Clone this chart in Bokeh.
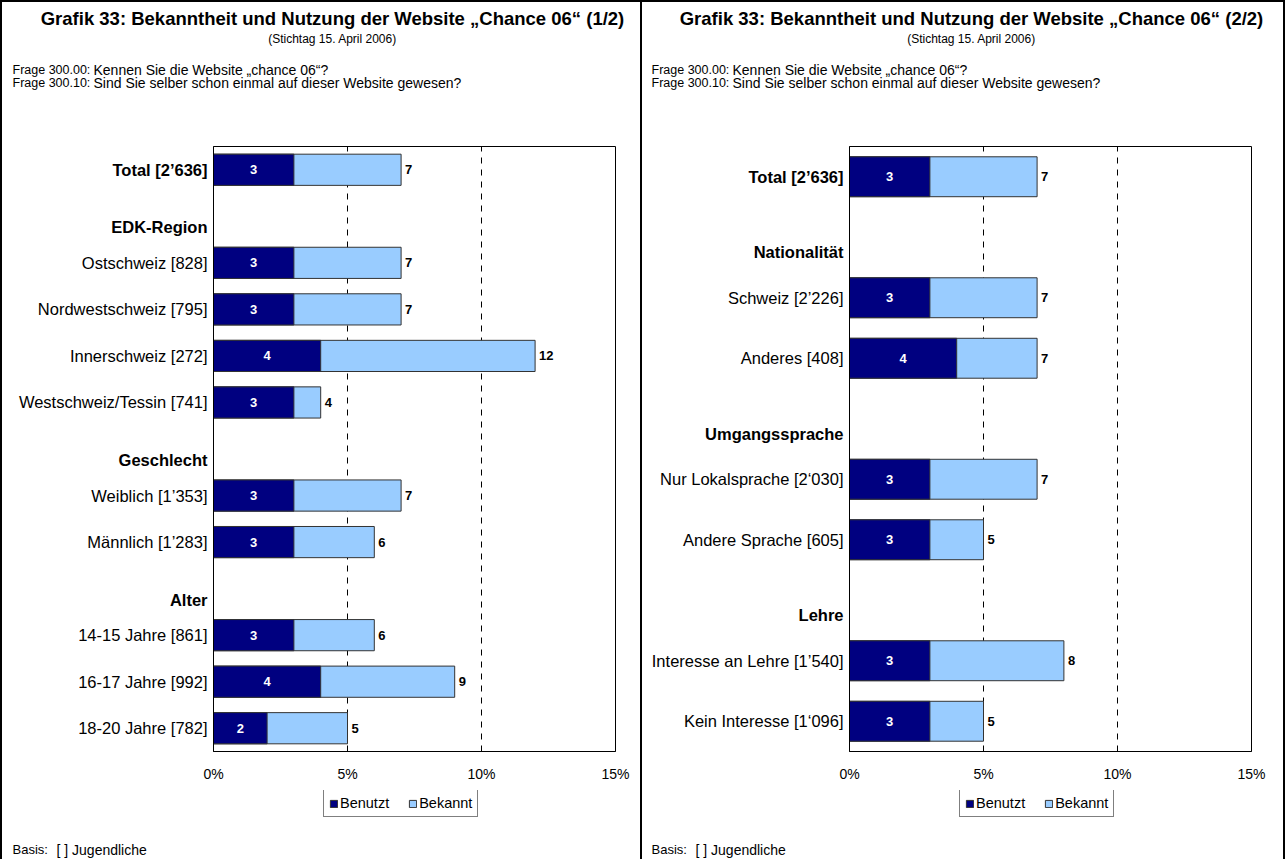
from bokeh.plotting import figure
from bokeh.models import Range1d, Legend, LegendItem, FixedTicker, ColumnDataSource
from bokeh.core.properties import value
from bokeh.layouts import row, column
from bokeh.embed import file_html
from bokeh.resources import INLINE

FONT = "Liberation Sans"

# ---------------- data ----------------
titles = ["Grafik 33: Bekanntheit und Nutzung der Website „Chance 06“ (1/2)",
          "Grafik 33: Bekanntheit und Nutzung der Website „Chance 06“ (2/2)"]
subtitle = "(Stichtag 15. April 2006)"
frage_ids = ["Frage 300.00:", "Frage 300.10:"]
frage_texts = ["Kennen Sie die Website „chance 06“?",
               "Sind Sie selber schon einmal auf dieser Website gewesen?"]
basis = ["Basis:", "[ ] Jugendliche"]
series_names = ["Benutzt", "Bekannt"]
x_ticks = [0, 5, 10, 15]
tick_labels = ["0%", "5%", "10%", "15%"]

# panel 1
rows_1 = ["Total [2’636]", "EDK-Region", "Ostschweiz [828]", "Nordwestschweiz [795]",
          "Innerschweiz [272]", "Westschweiz/Tessin [741]", "Geschlecht",
          "Weiblich [1’353]", "Männlich [1’283]", "Alter",
          "14-15 Jahre [861]", "16-17 Jahre [992]", "18-20 Jahre [782]"]
headers_1 = ["EDK-Region", "Geschlecht", "Alter"]
categories_1 = ["Total [2’636]", "Ostschweiz [828]", "Nordwestschweiz [795]",
                "Innerschweiz [272]", "Westschweiz/Tessin [741]",
                "Weiblich [1’353]", "Männlich [1’283]",
                "14-15 Jahre [861]", "16-17 Jahre [992]", "18-20 Jahre [782]"]
benutzt_1 = [3, 3, 3, 4, 3, 3, 3, 3, 4, 2]
bekannt_1 = [7, 7, 7, 12, 4, 7, 6, 6, 9, 5]

# panel 2
rows_2 = ["Total [2’636]", "Nationalität", "Schweiz [2’226]", "Anderes [408]",
          "Umgangssprache", "Nur Lokalsprache [2‘030]", "Andere Sprache [605]",
          "Lehre", "Interesse an Lehre [1’540]", "Kein Interesse [1‘096]"]
headers_2 = ["Nationalität", "Umgangssprache", "Lehre"]
categories_2 = ["Total [2’636]", "Schweiz [2’226]", "Anderes [408]",
                "Nur Lokalsprache [2‘030]", "Andere Sprache [605]",
                "Interesse an Lehre [1’540]", "Kein Interesse [1‘096]"]
benutzt_2 = [3, 3, 4, 3, 3, 3, 3]
bekannt_2 = [7, 7, 7, 7, 5, 8, 5]

DARK = "#000080"
LIGHT = "#99CCFF"
EDGE = "#333333"

PAD = 2                 # black border width (row padding / spacing)
CHART_H = 788
LEG_H = 69
FRAME_TOP = 146         # page px
FRAME_BOTTOM = 751      # page px
FRAME_W = 402


def make_panel(title, rows, headers, cats, ben, bek, width, page_x0, panel_edge,
               left_b, header_offset, bar_h, legend_left):
    n = len(rows)
    frame_left = page_x0 + left_b
    right_b = width - left_b - FRAME_W

    def X(px):  # page pixel -> data x (free-standing texts)
        return (px - frame_left) * 15.0 / FRAME_W

    def Y(py):  # page pixel -> data y in chart figure
        return (FRAME_BOTTOM - py) * n / float(FRAME_BOTTOM - FRAME_TOP)

    p = figure(width=width, height=CHART_H,
               x_range=Range1d(0, 15), y_range=Range1d(0, n),
               min_border_left=left_b, min_border_right=right_b,
               min_border_top=FRAME_TOP - PAD,
               min_border_bottom=CHART_H - (FRAME_BOTTOM - PAD),
               output_backend="svg", toolbar_location=None, title=None)
    p.border_fill_color = "white"
    p.background_fill_color = "white"
    p.outline_line_color = "black"
    p.outline_line_width = 1

    pos = {r: n - 0.5 - i for i, r in enumerate(rows)}
    total = rows[0]
    normal_rows = [r for r in rows if r not in headers and r != total]

    # x axis
    p.xaxis.ticker = FixedTicker(ticks=x_ticks)
    p.xaxis.major_label_overrides = dict(zip(x_ticks, tick_labels))
    p.xaxis.major_tick_in = 0
    p.xaxis.major_tick_out = 0
    p.xaxis.minor_tick_in = 0
    p.xaxis.minor_tick_out = 0
    p.xaxis.axis_line_color = "black"
    p.xaxis.major_label_standoff = 14
    p.xaxis.major_label_text_font = FONT
    p.xaxis.major_label_text_font_size = "14px"
    p.xaxis.major_label_text_color = "black"

    # y axis (numeric positions, category labels as overrides)
    p.yaxis.ticker = FixedTicker(ticks=[pos[r] for r in normal_rows])
    p.yaxis.major_label_overrides = {pos[r]: r for r in normal_rows}
    p.yaxis.major_tick_in = 0
    p.yaxis.major_tick_out = 0
    p.yaxis.minor_tick_in = 0
    p.yaxis.minor_tick_out = 0
    p.yaxis.axis_line_color = "black"
    p.yaxis.major_label_standoff = 6
    p.yaxis.major_label_text_font = FONT
    p.yaxis.major_label_text_font_size = "16.5px"
    p.yaxis.major_label_text_color = "black"

    p.ygrid.grid_line_color = None
    p.xgrid.ticker = FixedTicker(ticks=[5, 10, 15])
    p.xgrid.grid_line_color = "black"
    p.xgrid.grid_line_dash = "6 6"
    p.xgrid.grid_line_width = 1

    src = ColumnDataSource(dict(
        y=[pos[c] for c in cats], benutzt=ben, bekannt=bek,
        mid=[b / 2 for b in ben],
        blabel=[str(v) for v in ben],
        klabel=[str(v) for v in bek]))

    p.hbar(y="y", left=0, right="bekannt", height=bar_h,
           fill_color=LIGHT, line_color=EDGE, line_width=1, source=src)
    p.hbar(y="y", left=0, right="benutzt", height=bar_h,
           fill_color=DARK, line_color=EDGE, line_width=1, source=src)

    p.text(x="mid", y="y", text="blabel", source=src, text_color="white",
           text_font=value(FONT), text_font_style="bold", text_font_size="13px",
           text_align="center", text_baseline="middle")
    p.text(x="bekannt", y="y", text="klabel", source=src, x_offset=4,
           text_color="black", text_font=value(FONT), text_font_style="bold",
           text_font_size="13px", text_align="left", text_baseline="middle")

    # bold row labels (Total and group headers) left of the frame
    shift = header_offset * n / float(FRAME_BOTTOM - FRAME_TOP)
    p.text(x=[0] * (1 + len(headers)),
           y=[pos[total]] + [pos[h] - shift for h in headers],
           text=[total] + headers, x_offset=-6, level="overlay",
           text_font=value(FONT), text_font_style="bold", text_font_size="16.5px",
           text_align="right", text_baseline="middle", text_color="black")

    # header texts
    def lab(fig, xf, yf, px, py, text, size, bold=False, align="left"):
        fig.text(x=[xf(px)], y=[yf(py)], text=[text], level="overlay",
                 text_font=value(FONT), text_font_size=size,
                 text_font_style="bold" if bold else "normal",
                 text_align=align, text_baseline="middle", text_color="black")

    lab(p, X, Y, panel_edge + 328, 18, title, "18.5px", bold=True, align="center")
    lab(p, X, Y, panel_edge + 328, 38, subtitle, "12px", align="center")
    lab(p, X, Y, panel_edge + 8, 69, frage_ids[0], "12.5px")
    lab(p, X, Y, panel_edge + 89, 69, frage_texts[0], "14px")
    lab(p, X, Y, panel_edge + 8, 82, frage_ids[1], "12.5px")
    lab(p, X, Y, panel_edge + 89, 82, frage_texts[1], "14px")

    # ---- legend + footer strip ----
    leg_top = PAD + CHART_H
    leg_bottom = leg_top + LEG_H

    def Yq(py):
        return (leg_bottom - py) / float(LEG_H)

    q = figure(width=width, height=LEG_H, x_range=Range1d(0, 15), y_range=Range1d(0, 1),
               min_border=0, x_axis_type=None, y_axis_type=None,
               output_backend="svg", toolbar_location=None, title=None)
    q.border_fill_color = "white"
    q.background_fill_color = "white"
    q.outline_line_color = None
    q.grid.visible = False
    # legend proxies (one bar each, placed outside the visible range)
    g_ben = q.hbar(y=[-5], left=[0], right=[benutzt_1[0]], height=0.5,
                   fill_color=DARK, line_color=EDGE, line_width=1)
    g_bek = q.hbar(y=[-5], left=[0], right=[bekannt_1[0]], height=0.5,
                   fill_color=LIGHT, line_color=EDGE, line_width=1)
    legend = Legend(items=[LegendItem(label=series_names[0], renderers=[g_ben]),
                           LegendItem(label=series_names[1], renderers=[g_bek])],
                    orientation="horizontal",
                    location=(legend_left - frame_left, leg_bottom - 817),
                    border_line_color="black", border_line_width=1,
                    background_fill_color="white", background_fill_alpha=1,
                    label_text_font=FONT, label_text_font_size="14.5px",
                    label_text_color="black", label_height=14,
                    glyph_width=9, glyph_height=9, label_standoff=2,
                    spacing=19, padding=5, margin=0)
    q.add_layout(legend)
    lab(q, X, Yq, panel_edge + 8, 849, basis[0], "13px")
    lab(q, X, Yq, panel_edge + 52, 849, basis[1], "14px")

    col = column(p, q, spacing=0)
    col.styles = {"background-color": "white"}
    return col


c1 = make_panel(titles[0], rows_1, headers_1, categories_1, benutzt_1, bekannt_1,
                638, PAD, 4, 211, 11, 0.67, 323)
c2 = make_panel(titles[1], rows_2, headers_2, categories_2, benutzt_2, bekannt_2,
                641, 642, 643, 207, 15, 0.66, 959)

layout = row(c1, c2, spacing=PAD)
layout.styles = {"background-color": "black", "padding": "2px 2px 0px 2px"}
open("out.html", "w").write(file_html(layout, INLINE))
